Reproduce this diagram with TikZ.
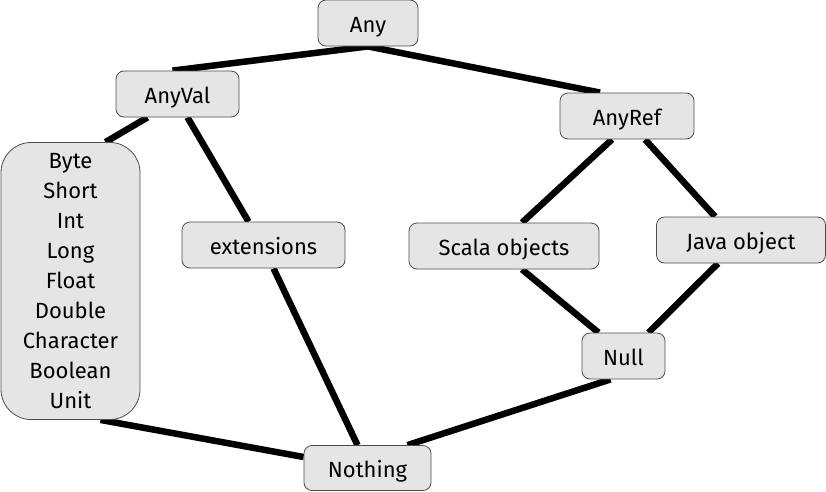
\documentclass[tikz,border=0pt]{standalone}
\usepackage{fontspec}
\setmainfont{Fira Sans}
\usetikzlibrary{backgrounds}
\tikzset{
  typebox/.style={rectangle, rounded corners=8pt, draw=black!70, fill=black!10, line width=0.8pt, inner sep=0pt, text centered, font=\fontsize{22}{30}\selectfont},
  namebox/.style={typebox, minimum height=46pt, text height=20pt, text depth=2pt},
  link/.style={line width=6.5pt},
}

\begin{document}
\begin{tikzpicture}[x=1pt,y=-1pt]
\useasboundingbox (0,0) rectangle (826,491);
\node (any) [namebox, minimum width=100pt] at (368,23) {Any};
\node (anyval) [namebox, minimum width=123pt] at (177.5,94) {AnyVal};
\node (anyref) [namebox, minimum width=134pt] at (627,116) {AnyRef};
\node (valtypes) [typebox, rounded corners=30pt, align=center, minimum width=139pt, minimum height=277pt] at (70.5,281) {Byte\\Short\\Int\\Long\\Float\\Double\\Character\\Boolean\\Unit};
\node (ext) [namebox, minimum width=163pt] at (263.5,245) {extensions};
\node (scalaobj) [namebox, minimum width=190pt] at (504,246) {Scala objects};
\node (javaobj) [namebox, minimum width=169pt] at (741,240) {Java object};
\node (null) [namebox, minimum width=83pt] at (623.5,356) {Null};
\node (nothing) [namebox, minimum width=127pt, minimum height=45pt] at (367.5,468) {Nothing};
\begin{scope}[on background layer]
\draw [link] (any.south) -- ([xshift=-5pt]anyval.north);
\draw [link] (any.south) -- ([xshift=-27pt]anyref.north);
\draw [link] ([xshift=-30pt]anyval.south) -- ([xshift=35pt]valtypes.north);
\draw [link] ([xshift=10pt]anyval.south) -- ([xshift=-15pt]ext.north);
\draw [link] ([xshift=-15pt]anyref.south) -- ([xshift=18pt]scalaobj.north);
\draw [link] ([xshift=18pt]anyref.south) -- ([xshift=-26pt]javaobj.north);
\draw [link] ([xshift=18pt]scalaobj.south) -- ([xshift=-25pt]null.north);
\draw [link] ([xshift=-23pt]javaobj.south) -- ([xshift=25pt]null.north);
\draw [link] ([xshift=30pt]valtypes.south) -- ([yshift=11pt]nothing.west);
\draw [link] ([xshift=10pt]ext.south) -- ([xshift=-10pt]nothing.north);
\draw [link] ([xshift=-13pt]null.south) -- ([xshift=40pt]nothing.north);
\end{scope}
\end{tikzpicture}
\end{document}
